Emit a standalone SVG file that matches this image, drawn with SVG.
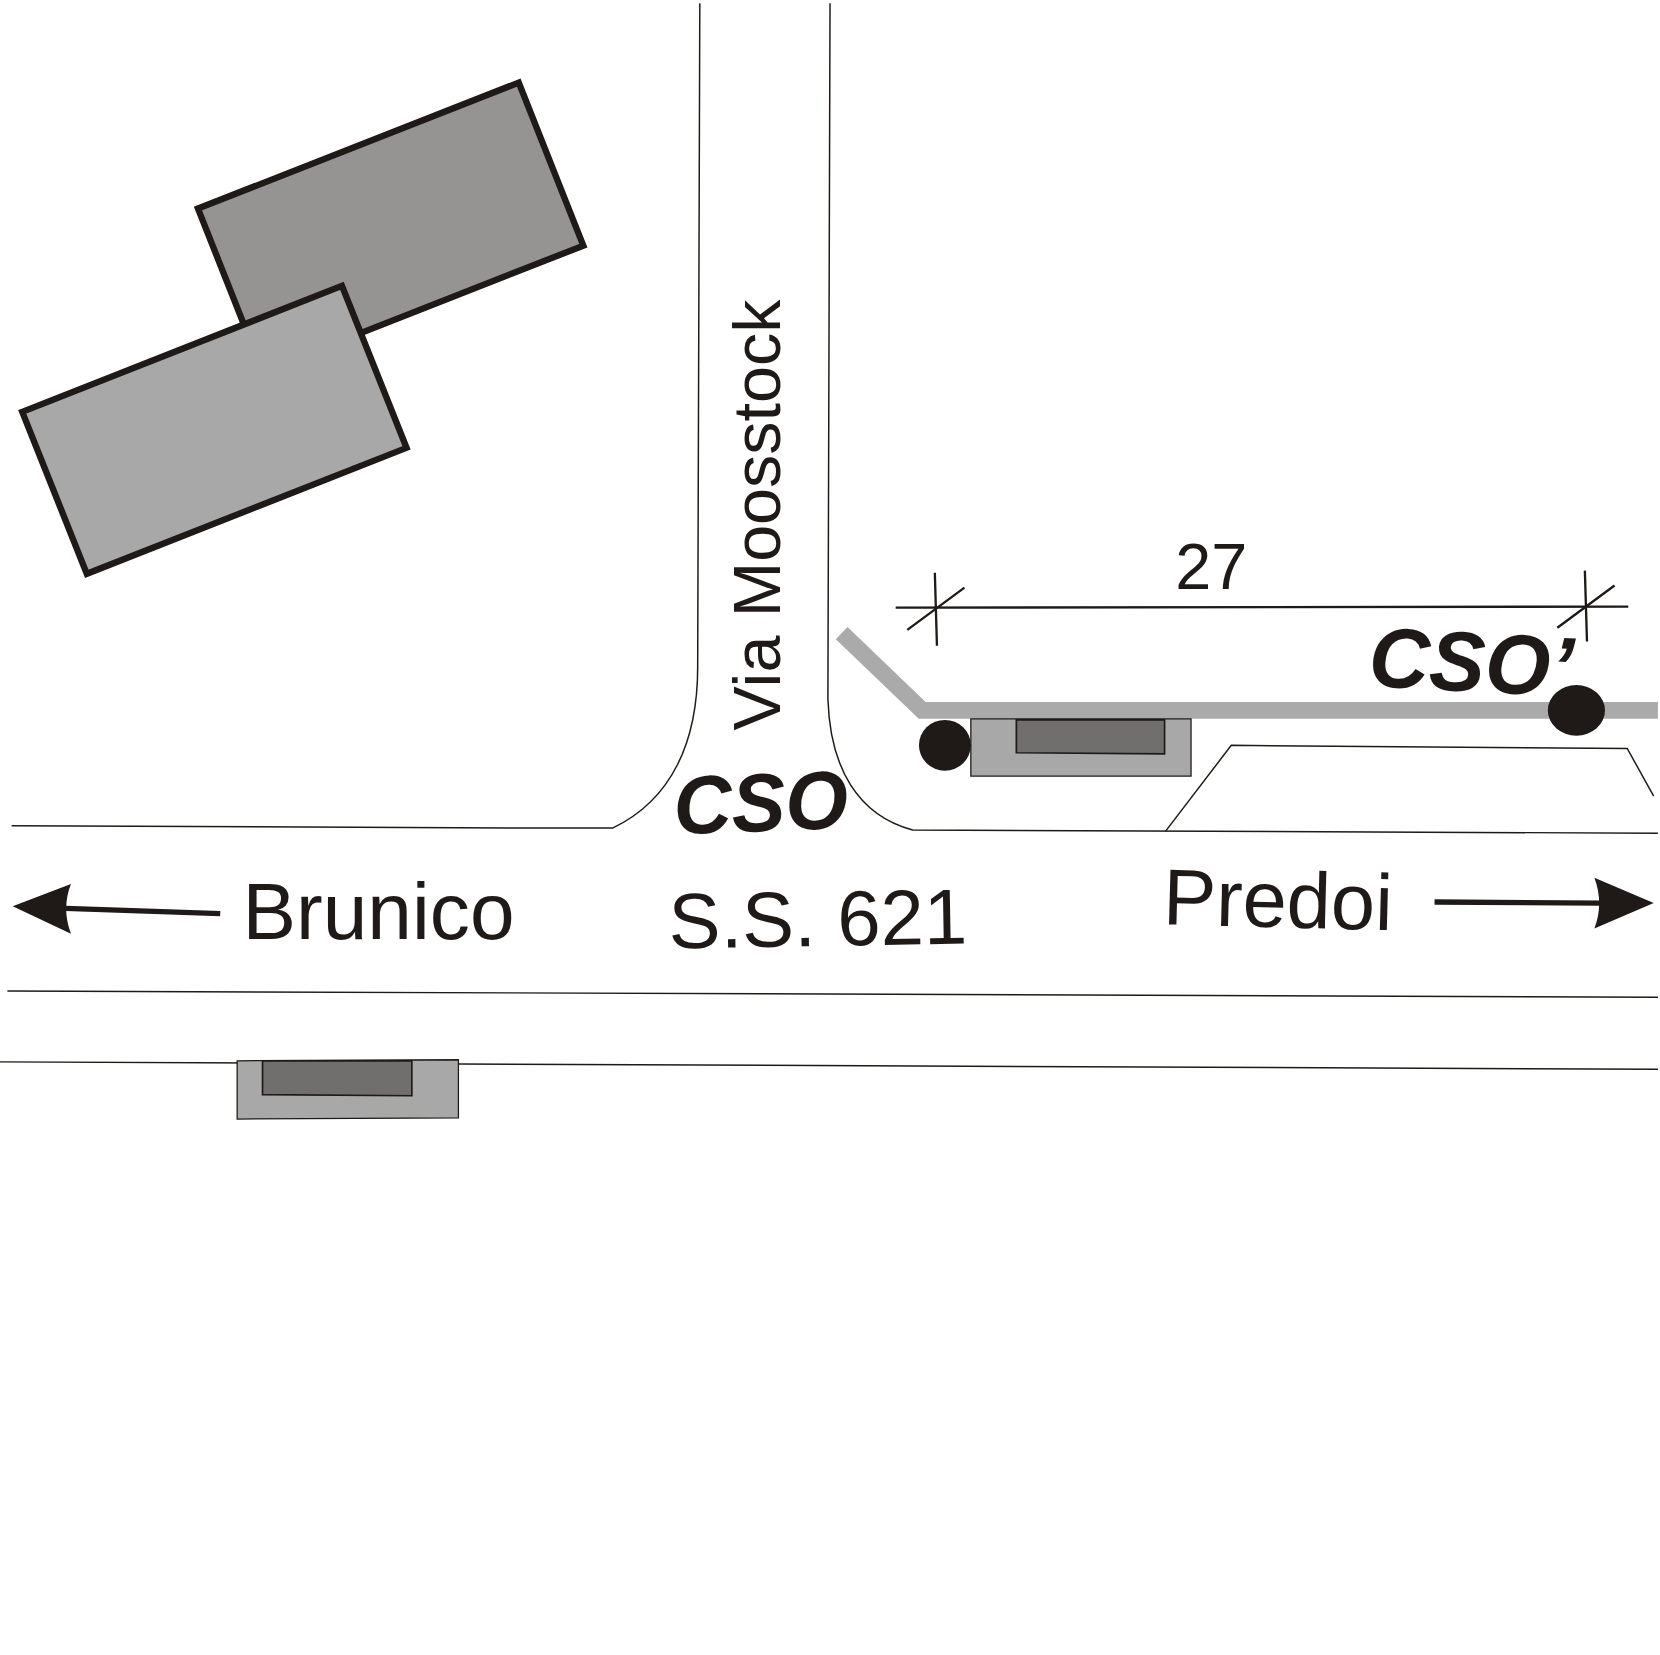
<svg xmlns="http://www.w3.org/2000/svg" width="1660" height="1655" viewBox="0 0 1660 1655">
<style>
.road{fill:none;stroke:#1f1a17;stroke-width:1.4}
.bld{stroke:#1f1a17;stroke-width:6;stroke-linejoin:miter}
.stop{fill:#a8a8a8;stroke:#1f1a17;stroke-width:1.2}
.inner{fill:#706f6d;stroke:#1f1a17;stroke-width:1.6}
.dim{fill:none;stroke:#1f1a17;stroke-width:2.2}
.ink{fill:#1f1a17}
text{fill:#1f1a17;font-family:"Liberation Sans",Arial,sans-serif}
.bi{font-weight:700;font-style:italic}
</style>
<rect width="1660" height="1655" fill="#fff"/>
<g transform="scale(1.0587)">
<g id="roads">
<path class="road" d="M661 3L659 630C659 700 635 755 579 782L480 782L11 780"/>
<path class="road" d="M784 3L782 660C784 725 810 770 862 784L1566 787"/>
<path class="road" d="M7 936L1566 942"/>
<path class="road" d="M0 1003L1566 1010"/>
<path class="road" d="M1101 785L1163 704L1537 707L1562 752"/>
</g>
<g id="buildings">
<polygon id="building-back" class="bld" fill="#959492" points="187,197 490,78 551,232 248,351"/>
<polygon id="building-front" class="bld" fill="#a8a8a8" points="21,389 323,270 384,423 82,542"/>
</g>
<g id="sidewalk">
<path d="M795 598L871 671L1566 671" fill="none" stroke="#aaa" stroke-width="16"/>
</g>
<g id="stop-north">
<polygon class="stop" points="917,679 1125,679 1125,733 917,733"/>
<polygon class="inner" points="960,680 1100,680 1100,712 960,711"/>
</g>
<g id="stop-south">
<polygon class="stop" points="224,1002 433,1001 433,1056 224,1057"/>
<polygon class="inner" points="248,1002 389,1002 389,1035 248,1034"/>
</g>
<g id="cso-points">
<ellipse class="ink" cx="892.5" cy="704" rx="24.5" ry="24"/>
<ellipse class="ink" cx="1489" cy="671" rx="27" ry="24"/>
</g>
<g id="dimension">
<path class="dim" d="M846 574L1538 573"/>
<path class="dim" d="M883 541L885 610M857 595L911 555M1497 539L1499 606M1471 593L1525 553"/>
<text x="1110" y="556" font-size="62" textLength="68" lengthAdjust="spacingAndGlyphs">27</text>
</g>
<g id="arrows">
<path class="dim" style="stroke-width:5" d="M62 858L208 863M1355 852L1512 853"/>
<path class="ink" d="M12 856L67 835Q58 858 67 882Z"/>
<path class="ink" d="M1562 853L1506 829Q1515 853 1506 877Z"/>
</g>
<g id="labels">
<text x="229" y="887" font-size="76" textLength="257" lengthAdjust="spacingAndGlyphs">Brunico</text>
<text transform="translate(632 896) rotate(-1)" font-size="74" textLength="282" lengthAdjust="spacingAndGlyphs">S.S. 621</text>
<text transform="translate(1098 873) rotate(1.5)" font-size="75" textLength="217" lengthAdjust="spacingAndGlyphs">Predoi</text>
<text transform="translate(737 690) rotate(-90)" font-size="63" textLength="407" lengthAdjust="spacingAndGlyphs">Via Moosstock</text>
<text class="bi" transform="translate(637 788) rotate(-2)" font-size="78" textLength="165" lengthAdjust="spacingAndGlyphs">CSO</text>
<text class="bi" transform="translate(1292 648) rotate(3)" font-size="80" textLength="193" lengthAdjust="spacingAndGlyphs">CSO’</text>
</g>
</g>
</svg>
